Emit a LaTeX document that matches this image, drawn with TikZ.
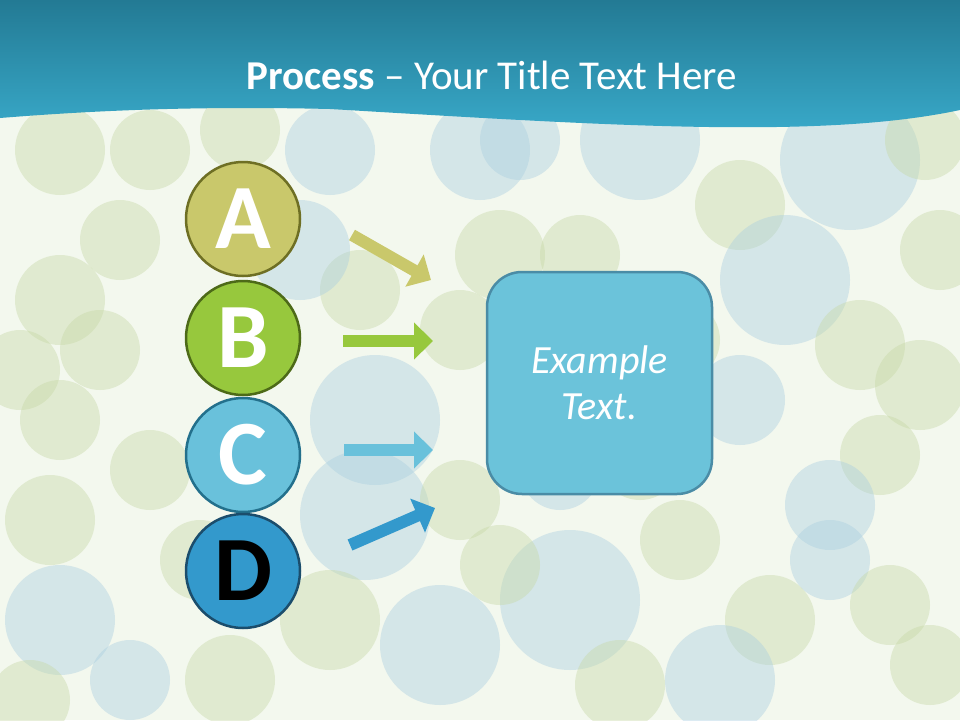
\documentclass[tikz,border=0pt]{standalone}
\usepackage{fontspec}
\setmainfont{Carlito}
\usetikzlibrary{arrows.meta}
\definecolor{hdtop}{HTML}{237A94}
\definecolor{hdbot}{HTML}{3AACCC}
\definecolor{bgbase}{HTML}{F3F8EE}
\definecolor{bubg}{HTML}{C5D7A3}
\definecolor{bubb}{HTML}{A7CDE0}
\definecolor{fillA}{HTML}{C9C86B}
\definecolor{fillB}{HTML}{97C83D}
\definecolor{fillC}{HTML}{69C1DB}
\definecolor{fillD}{HTML}{3399CC}
\definecolor{borderA}{HTML}{6E6F24}
\definecolor{borderB}{HTML}{4D6A18}
\definecolor{borderC}{HTML}{23708C}
\definecolor{borderD}{HTML}{1B4D6C}
\definecolor{boxfill}{HTML}{6BC3DA}
\definecolor{boxline}{HTML}{4A8CA6}

\begin{document}
\begin{tikzpicture}[x=1pt,y=-1pt,
    letter/.style={circle,minimum size=114pt,inner sep=0pt,line width=2.5pt,font=\fontsize{92}{92}\selectfont\bfseries},
    flow/.style={line width=12pt,-{Triangle[width=36pt,length=19pt]}}]
    \useasboundingbox (0,0) rectangle (960,720);
    \fill[bgbase] (0,0) rectangle (960,720);
    \foreach \x/\y/\r/\c in {60/150/45/bubg,150/150/40/bubg,240/130/40/bubg,330/150/45/bubb,480/150/50/bubb,520/140/40/bubb,640/140/60/bubb,740/205/45/bubg,850/160/70/bubb,925/140/40/bubg,
            60/300/45/bubg,20/370/40/bubg,100/350/40/bubg,60/420/40/bubg,150/470/40/bubg,50/520/45/bubg,60/620/55/bubb,130/680/40/bubb,30/700/40/bubg,
            375/420/65/bubb,365/515/65/bubb,360/290/40/bubg,300/250/50/bubb,460/330/40/bubg,460/500/40/bubg,500/255/45/bubg,580/255/40/bubg,
            785/280/65/bubb,860/345/45/bubg,920/385/45/bubg,880/455/40/bubg,830/505/45/bubb,830/560/40/bubb,890/605/40/bubg,930/665/40/bubg,
            740/400/45/bubb,770/620/45/bubg,720/680/55/bubb,570/600/70/bubb,440/645/60/bubb,330/620/50/bubg,230/680/45/bubg,620/685/45/bubg,
            680/540/40/bubg,500/565/40/bubg,640/460/40/bubg,680/340/40/bubg,200/560/40/bubg,120/240/40/bubg,940/250/40/bubg,560/470/40/bubb}
        { \fill[\c,opacity=0.4] (\x,\y) circle (\r pt); }
    \shade[top color=hdtop,bottom color=hdbot] (0,0) -- (960,0) -- (960,110) .. controls (820,140) and (600,125) .. (330,109) .. controls (200,106) and (100,110) .. (0,118) -- cycle;
    \node[text=white,font=\fontsize{41}{41}\selectfont] (title) at (492,75) {\textbf{Process} \textendash{} Your Title Text Here};
    \foreach \n/\y/\t in {A/219/white,B/338/white,C/455/white,D/571/black}
        { \node[letter,fill=fill\n,draw=border\n,text=\t] (\n) at (243,\y) {\n}; }
    \node[draw=boxline,fill=boxfill,line width=2.5pt,rounded corners=35pt,minimum width=225pt,minimum height=222pt,align=center,text=white,font=\fontsize{40}{46}\selectfont\itshape] (ex) at (599.5,383) {Example\\Text.};
    \foreach \n/\sx/\sy/\ex/\ey in {A/352/235/431/280,B/343/341/433/341,C/344/450/433/450,D/350/545/435/508}
        { \coordinate (s\n) at (\sx,\sy); \coordinate (e\n) at (\ex,\ey); \draw[flow,fill\n] (s\n) -- (e\n); }
\end{tikzpicture}
\end{document}
